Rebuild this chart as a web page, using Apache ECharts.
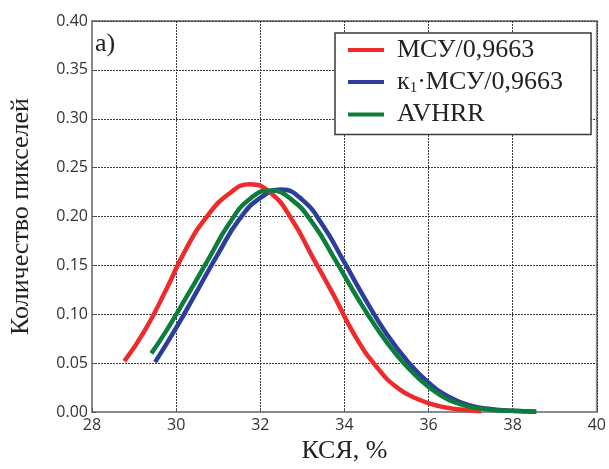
<!DOCTYPE html>
<html>
<head>
<meta charset="utf-8">
<script src="https://cdn.jsdelivr.net/npm/echarts@6/dist/echarts.min.js"></script>
<style>html,body{margin:0;padding:0;background:#fff}#c{width:609px;height:469px}</style>
</head>
<body>
<div id="c"></div>
<script>
// Data
const xTicks = [28, 30, 32, 34, 36, 38, 40];
const yTicks = [0, 0.05, 0.10, 0.15, 0.20, 0.25, 0.30, 0.35, 0.40];

const redX = [28.77, 29.25, 29.75, 30.25, 30.75, 31.25, 31.75, 32.25, 32.75, 33.25, 33.75, 34.25, 34.75, 35.25, 35.75, 36.25, 36.75, 37.25];
const redY = [0.052, 0.083, 0.124, 0.168, 0.201, 0.223, 0.233, 0.224, 0.197, 0.158, 0.119, 0.078, 0.047, 0.025, 0.013, 0.006, 0.0025, 0.0007];

const blueX = [29.5, 30.0, 30.5, 31.0, 31.5, 32.0, 32.5, 33.0, 33.5, 34.0, 34.5, 35.0, 35.5, 36.0, 36.5, 37.0, 37.5, 38.0, 38.56];
const blueY = [0.051, 0.086, 0.124, 0.162, 0.197, 0.219, 0.2275, 0.217, 0.190, 0.153, 0.115, 0.080, 0.052, 0.030, 0.015, 0.0065, 0.0028, 0.0012, 0.0003];

const greenX = [29.41, 29.75, 30.25, 30.75, 31.25, 31.75, 32.25, 32.75, 33.25, 33.75, 34.25, 34.75, 35.25, 35.75, 36.25, 36.75, 37.25, 37.75, 38.25, 38.56];
const greenY = [0.060, 0.082, 0.118, 0.155, 0.192, 0.218, 0.2265, 0.217, 0.193, 0.158, 0.121, 0.087, 0.058, 0.035, 0.018, 0.008, 0.0035, 0.0015, 0.0007, 0.0003];

const names = ['МСУ/0,9663', 'к1·МСУ/0,9663', 'AVHRR'];
const colors = ['#ee2a2c', '#2c3d9c', '#0d7d3c'];

function pairs(xs, ys) { return xs.map((x, i) => [x, ys[i]]); }

const chart = echarts.init(document.getElementById('c'), null, {renderer: 'canvas'});
const serif = 'Liberation Serif';
const sans = 'Open Sans';
chart.setOption({
  animation: false,
  grid: {left: 85, right: 11, top: 21, bottom: 51, show: true, borderColor: '#8a8a8a', borderWidth: 2, backgroundColor: '#fff'},
  legend: {
    orient: 'vertical', left: 335, top: 33,
    itemWidth: 36, itemHeight: 4, itemGap: 6,
    padding: [4, 28, 7, 13],
    borderColor: '#3a3a3a', borderWidth: 1.5, backgroundColor: '#fff',
    icon: 'rect',
    data: names,
    formatter: function (n) {
      if (n === names[1]) return '{g|}{t|к}{s|1}{t|·МСУ/0,9663}';
      return '{g|}{t|' + n + '}';
    },
    textStyle: {
      color: '#222',
      rich: {
        g: {width: 8},
        t: {fontFamily: serif, fontSize: 26, color: '#222', lineHeight: 27},
        s: {fontFamily: serif, fontSize: 15, color: '#222', verticalAlign: 'bottom', padding: [9, 0, 0, 0]}
      }
    }
  },
  xAxis: {
    type: 'value', min: 28, max: 40, interval: 2,
    name: 'КСЯ, %', nameLocation: 'middle', nameGap: 26,
    nameTextStyle: {fontFamily: serif, fontSize: 26, color: '#222'},
    axisLine: {show: true, lineStyle: {color: '#8a8a8a', width: 2}},
    axisTick: {show: true, inside: true, length: 4, lineStyle: {color: '#555'}},
    axisLabel: {fontFamily: sans, fontSize: 16, color: '#333', margin: 5},
    splitLine: {show: true, lineStyle: {color: '#3a3a3a', type: [2, 1], width: 1}}
  },
  yAxis: {
    type: 'value', min: 0, max: 0.4, interval: 0.05,
    name: 'Количество пикселей', nameLocation: 'middle', nameGap: 58,
    nameTextStyle: {fontFamily: serif, fontSize: 26, color: '#222'},
    axisLine: {show: true, lineStyle: {color: '#8a8a8a', width: 2}},
    axisTick: {show: true, inside: true, length: 4, lineStyle: {color: '#555'}},
    axisLabel: {fontFamily: sans, fontSize: 16, color: '#333', margin: 4, formatter: v => v.toFixed(2)},
    splitLine: {show: true, lineStyle: {color: '#3a3a3a', type: [2, 1], width: 1}}
  },
  graphic: [{
    type: 'text', left: 95, top: 31,
    style: {text: 'a)', fontFamily: serif, fontSize: 26, fill: '#222'}
  }],
  series: [
    {name: names[0], type: 'line', data: pairs(redX, redY), smooth: 0.5, showSymbol: false, lineStyle: {width: 4.5, color: colors[0]}, itemStyle: {color: colors[0]}, z: 3},
    {name: names[1], type: 'line', data: pairs(blueX, blueY), smooth: 0.5, showSymbol: false, lineStyle: {width: 4.5, color: colors[1]}, itemStyle: {color: colors[1]}, z: 2},
    {name: names[2], type: 'line', data: pairs(greenX, greenY), smooth: 0.5, showSymbol: false, lineStyle: {width: 4.5, color: colors[2]}, itemStyle: {color: colors[2]}, z: 4}
  ]
});
</script>
</body>
</html>
